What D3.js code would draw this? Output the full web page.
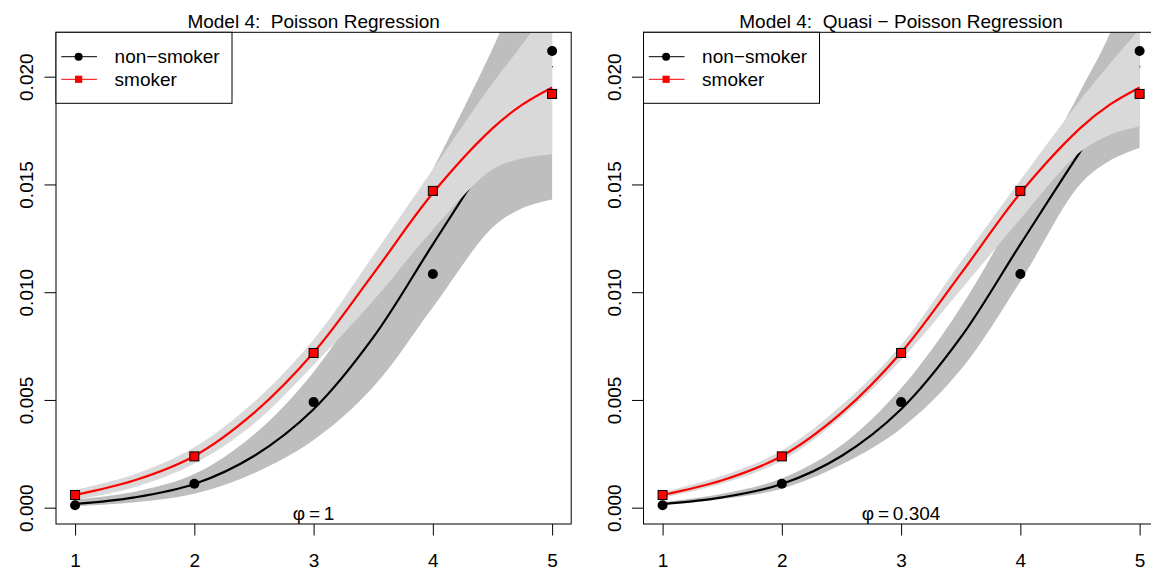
<!DOCTYPE html>
<html><head><meta charset="utf-8">
<script src="https://cdn.jsdelivr.net/npm/d3@7"></script>
<style>
body{margin:0;background:#fff}
text{font-family:"Liberation Sans", Arial, Helvetica, sans-serif; white-space:pre; fill:#000}
</style>
</head><body><svg id="c" width="1151" height="570"></svg>
<script>
// ---------- data ----------
const ageGroups = [1, 2, 3, 4, 5];
const xTicks = [1, 2, 3, 4, 5];
const yTicks = [0, 0.005, 0.010, 0.015, 0.020];
const yTickLabels = ["0.000", "0.005", "0.010", "0.015", "0.020"];
const nonSmokerRate = [0.00011, 0.00111, 0.00490, 0.01084, 0.02119];
const smokerRate    = [0.00059, 0.00238, 0.00718, 0.01470, 0.01920];

const fitGrid      = [1, 1.5, 2, 2.5, 3, 3.5, 4, 4.5, 4.75, 5];
const nonSmokerFit = [0.00017, 0.00048, 0.00110, 0.00240, 0.00457, 0.00790, 0.01222, 0.01650, 0.01850, 0.02050];
const smokerFit    = [0.00059, 0.00127, 0.00240, 0.00440, 0.00720, 0.01085, 0.01460, 0.01760, 0.01870, 0.01950];

// Poisson confidence bands
const poisNonLo = [0.00007, 0.00025, 0.00065, 0.00160, 0.00314, 0.00560, 0.00930, 0.01300, 0.01390, 0.01430];
const poisNonHi = [0.00037, 0.00074, 0.00156, 0.00340, 0.00630, 0.01050, 0.01570, 0.02130, 0.02450, 0.02800];
const poisSmkLo = [0.00036, 0.00095, 0.00205, 0.00390, 0.00662, 0.00960, 0.01290, 0.01570, 0.01620, 0.01640];
const poisSmkHi = [0.00082, 0.00155, 0.00280, 0.00490, 0.00780, 0.01170, 0.01570, 0.01970, 0.02150, 0.02350];
// Quasi-Poisson confidence bands
const quasiNonLo = [0.00011, 0.00040, 0.00088, 0.00200, 0.00368, 0.00640, 0.01050, 0.01500, 0.01610, 0.01670];
const quasiNonHi = [0.00026, 0.00065, 0.00136, 0.00290, 0.00554, 0.00930, 0.01410, 0.01930, 0.02200, 0.02600];
const quasiSmkLo = [0.00045, 0.00112, 0.00218, 0.00420, 0.00685, 0.01010, 0.01340, 0.01650, 0.01730, 0.01770];
const quasiSmkHi = [0.00072, 0.00148, 0.00265, 0.00475, 0.00755, 0.01140, 0.01520, 0.01890, 0.02060, 0.02220];

const titles = ["Model 4:  Poisson Regression", "Model 4:  Quasi \u2212 Poisson Regression"];
const phiValues = ["1", "0.304"];
const legendLabels = ["non\u2212smoker", "smoker"];

// ---------- layout ----------
const W = 1151, H = 570;
const plotTop = 32.3, plotBottom = 524;
const panels = [
  {left: 56.0, right: 571.2, title: titles[0], phi: phiValues[0], lo: [poisNonLo, poisSmkLo], hi: [poisNonHi, poisSmkHi]},
  {left: 643.5, right: 1158.7, title: titles[1], phi: phiValues[1], lo: [quasiNonLo, quasiSmkLo], hi: [quasiNonHi, quasiSmkHi]}
];
const FS = 19;
const darkBand = "#BEBEBE", lightBand = "#D9D9D9";
const curve = d3.curveCatmullRom.alpha(0.5);

const svg = d3.select("#c");
svg.append("rect").attr("width", W).attr("height", H).attr("fill", "#fff");

const y = d3.scaleLinear().domain([-0.000757, 0.02206]).range([plotBottom, plotTop]);

panels.forEach((p, i) => {
  const x = d3.scaleLinear().domain([0.84, 5.16]).range([p.left, p.right]);
  const g = svg.append("g");
  const clipId = "clip" + i;
  svg.append("clipPath").attr("id", clipId).append("rect")
    .attr("x", p.left).attr("y", plotTop).attr("width", p.right - p.left).attr("height", plotBottom - plotTop);
  const pg = g.append("g").attr("clip-path", `url(#${clipId})`);

  const area = (lo, hi) => d3.area().x((d, k) => x(fitGrid[k])).y0((d, k) => y(lo[k])).y1((d, k) => y(hi[k])).curve(curve)(fitGrid);
  const line = (vals) => d3.line().x((d, k) => x(fitGrid[k])).y((d, k) => y(vals[k])).curve(curve)(fitGrid);

  // non-smoker band & line
  pg.append("path").attr("d", area(p.lo[0], p.hi[0])).attr("fill", darkBand);
  pg.append("path").attr("d", line(nonSmokerFit)).attr("fill", "none").attr("stroke", "#000").attr("stroke-width", 2.2);
  // smoker band & line
  pg.append("path").attr("d", area(p.lo[1], p.hi[1])).attr("fill", lightBand);
  pg.append("path").attr("d", line(smokerFit)).attr("fill", "none").attr("stroke", "#FF0000").attr("stroke-width", 2.2);

  // points
  pg.selectAll(".np").data(ageGroups).enter().append("circle")
    .attr("cx", (d) => x(d)).attr("cy", (d, k) => y(nonSmokerRate[k])).attr("r", 5).attr("fill", "#000");
  pg.selectAll(".sp").data(ageGroups).enter().append("rect")
    .attr("x", (d) => x(d) - 4.5).attr("y", (d, k) => y(smokerRate[k]) - 4.5)
    .attr("width", 9).attr("height", 9).attr("fill", "#FF0000").attr("stroke", "#000").attr("stroke-width", 1);

  // box
  g.append("rect").attr("x", p.left).attr("y", plotTop).attr("width", p.right - p.left).attr("height", plotBottom - plotTop)
    .attr("fill", "none").attr("stroke", "#000").attr("stroke-width", 1);

  // x axis
  const xa = g.append("g").attr("transform", `translate(0,${plotBottom})`)
    .call(d3.axisBottom(x).tickValues(xTicks).tickSize(11.5).tickPadding(0).tickFormat(d3.format("d")));
  xa.select(".domain").remove();
  xa.selectAll("line").attr("stroke", "#000");
  xa.selectAll("text").attr("font-size", FS).attr("dy", null).attr("y", 43).attr("font-family", null);

  // y axis
  const ya = g.append("g").attr("transform", `translate(${p.left},0)`)
    .call(d3.axisLeft(y).tickValues(yTicks).tickSize(11.5).tickFormat((d, k) => yTickLabels[k]));
  ya.select(".domain").remove();
  ya.selectAll("line").attr("stroke", "#000");
  ya.selectAll("text").attr("font-size", FS).attr("font-family", null)
    .attr("x", null).attr("dy", null).attr("text-anchor", "middle")
    .attr("transform", "translate(-23,0) rotate(-90)");

  // title
  g.append("text").attr("x", (p.left + (i === 0 ? p.right : x(5.16))) / 2).attr("y", 28)
    .attr("text-anchor", "middle").attr("font-size", FS).text(p.title);

  // phi label
  const phiT = g.append("text").attr("x", x(3)).attr("y", 520).attr("text-anchor", "middle").attr("font-size", FS);
  phiT.append("tspan").text("\u03C6");
  phiT.append("tspan").text("\u2009=\u2009" + p.phi);

  // legend
  const lg = g.append("g").attr("transform", `translate(${p.left},${plotTop})`);
  lg.append("rect").attr("x", 0).attr("y", 0).attr("width", 176).attr("height", 71)
    .attr("fill", "#fff").attr("stroke", "#000").attr("stroke-width", 1);
  const rows = [24.4, 47];
  const colors = ["#000", "#FF0000"];
  legendLabels.forEach((lab, k) => {
    lg.append("line").attr("x1", 5.3).attr("x2", 41).attr("y1", rows[k]).attr("y2", rows[k])
      .attr("stroke", colors[k]).attr("stroke-width", 1);
    if (k === 0) lg.append("circle").attr("cx", 22.6).attr("cy", rows[k]).attr("r", 4).attr("fill", "#000");
    else lg.append("rect").attr("x", 22.6 - 3.6).attr("y", rows[k] - 3.6).attr("width", 7.2).attr("height", 7.2).attr("fill", "#FF0000");
    lg.append("text").attr("x", 58.6).attr("y", rows[k] + 6.6).attr("font-size", FS).text(lab);
  });
});
</script>
</body></html>
